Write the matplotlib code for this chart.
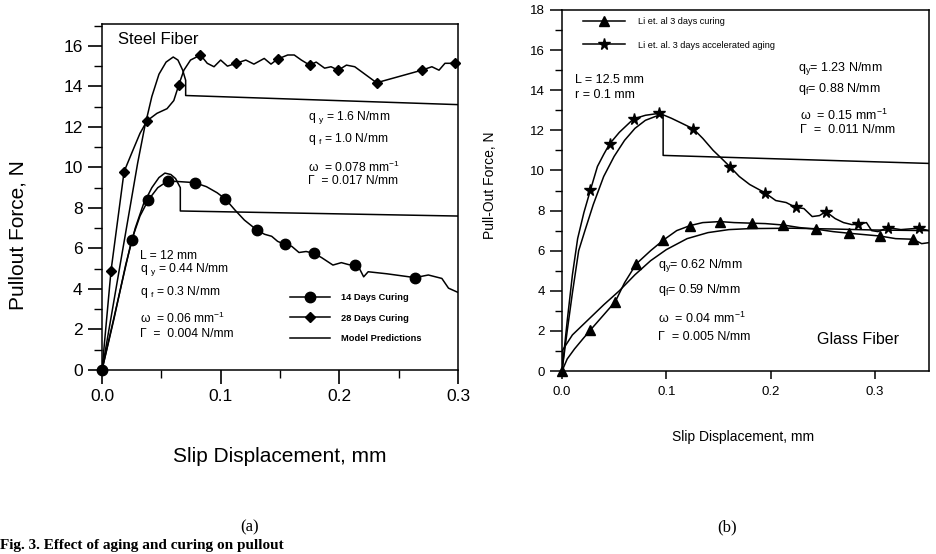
import matplotlib
matplotlib.use("Agg")
import matplotlib.pyplot as plt
from matplotlib.lines import Line2D
from matplotlib.ticker import MultipleLocator

plt.rcParams["font.family"] = ["Liberation Sans", "DejaVu Sans"]
plt.rcParams["mathtext.fontset"] = "custom"
plt.rcParams["mathtext.rm"] = "Liberation Sans"
plt.rcParams["mathtext.it"] = "Liberation Sans:italic"

# ---- (a) steel fiber ----
d14_x = [0, 0.025, 0.032, 0.039, 0.047, 0.0554, 0.065, 0.078, 0.088, 0.097, 0.104, 0.112,
         0.120, 0.1305, 0.137, 0.143, 0.148, 0.154, 0.160, 0.166, 0.172, 0.1786, 0.185,
         0.1946, 0.2017, 0.208, 0.213, 0.217, 0.2205, 0.2243, 0.240, 0.2638, 0.275, 0.2864,
         0.292, 0.300]
d14_y = [0, 6.42, 7.6, 8.39, 9.0, 9.33, 9.3, 9.25, 9.05, 8.75, 8.44, 7.9,
         7.4, 6.91, 6.7, 6.6, 6.35, 6.2, 6.1, 5.8, 5.85, 5.76, 5.55,
         5.18, 5.3, 5.2, 5.18, 5.0, 4.6, 4.85, 4.75, 4.56, 4.69, 4.52,
         4.04, 3.83]
d14_mx = [0, 0.025, 0.039, 0.0554, 0.078, 0.104, 0.1305, 0.154, 0.1786, 0.213, 0.2638]
d14_my = [0, 6.42, 8.39, 9.33, 9.25, 8.44, 6.91, 6.2, 5.76, 5.18, 4.56]

d28_x = [0, 0.0076, 0.0186, 0.025, 0.032, 0.0379, 0.0463, 0.0548, 0.0605, 0.0647,
         0.069, 0.0746, 0.083, 0.0887, 0.0944, 0.1, 0.1057, 0.113, 0.1212, 0.128,
         0.1367, 0.1424, 0.148, 0.1565, 0.162, 0.168, 0.175, 0.1805, 0.1876, 0.193,
         0.199, 0.206, 0.213, 0.2186, 0.2314, 0.2695, 0.278, 0.284, 0.289, 0.2977]
d28_y = [0, 4.9, 9.79, 10.7, 11.68, 12.3, 12.67, 12.9, 13.3, 14.07,
         14.8, 15.3, 15.55, 15.14, 14.97, 15.3, 15.0, 15.14, 15.3, 15.1,
         15.38, 15.1, 15.35, 15.55, 15.55, 15.3, 15.05, 15.2, 14.9, 14.97,
         14.8, 15.05, 14.97, 14.73, 14.18, 14.8, 14.97, 14.8, 15.14, 15.14]
d28_mx = [0.0076, 0.0186, 0.0379, 0.0647, 0.083, 0.113, 0.148, 0.175, 0.199, 0.2314, 0.2695, 0.2977]
d28_my = [4.9, 9.79, 12.3, 14.07, 15.55, 15.14, 15.35, 15.05, 14.8, 14.18, 14.8, 15.14]

sm_hi_x = [0, 0.02, 0.03, 0.036, 0.042, 0.048, 0.054, 0.06, 0.064, 0.068, 0.0705, 0.0705, 0.3]
sm_hi_y = [0, 6.8, 10.2, 12.0, 13.5, 14.6, 15.2, 15.45, 15.3, 14.8, 14.3, 13.55, 13.1]
sm_lo_x = [0, 0.01, 0.02, 0.028, 0.035, 0.042, 0.048, 0.053, 0.058, 0.062, 0.066, 0.066, 0.3]
sm_lo_y = [0, 2.5, 5.2, 7.0, 8.2, 9.0, 9.5, 9.72, 9.65, 9.45, 9.0, 7.85, 7.6]

# ---- (b) glass fiber ----
tri_x = [0, 0.005, 0.012, 0.02, 0.0272, 0.04, 0.0511, 0.06, 0.0712, 0.085, 0.0973, 0.11,
         0.1228, 0.135, 0.1515, 0.165, 0.182, 0.195, 0.212, 0.228, 0.244, 0.26, 0.275,
         0.29, 0.305, 0.32, 0.3366, 0.345, 0.352]
tri_y = [0, 0.6, 1.1, 1.6, 2.04, 2.8, 3.46, 4.4, 5.34, 6.0, 6.53, 7.0,
         7.25, 7.4, 7.45, 7.4, 7.37, 7.35, 7.28, 7.15, 7.07, 6.95, 6.87,
         6.8, 6.73, 6.6, 6.57, 6.35, 6.4]
tri_mx = [0, 0.0272, 0.0511, 0.0712, 0.0973, 0.1228, 0.1515, 0.182, 0.212, 0.244, 0.275, 0.305, 0.3366]
tri_my = [0, 2.04, 3.46, 5.34, 6.53, 7.25, 7.45, 7.37, 7.28, 7.07, 6.87, 6.73, 6.57]

star_x = [0, 0.005, 0.01, 0.015, 0.021, 0.0273, 0.034, 0.04, 0.0456, 0.055,
          0.0686, 0.08, 0.0935, 0.105, 0.115, 0.126, 0.135, 0.145, 0.153, 0.161,
          0.17, 0.18, 0.1945, 0.205, 0.215, 0.224, 0.232, 0.24, 0.247, 0.253,
          0.262, 0.27, 0.278, 0.284, 0.292, 0.297, 0.303, 0.3125, 0.325, 0.342, 0.352]
star_y = [0, 2.5, 4.8, 6.6, 7.9, 9.03, 10.2, 10.8, 11.32, 11.9,
          12.57, 12.75, 12.85, 12.6, 12.35, 12.07, 11.6, 11.0, 10.6, 10.19,
          9.7, 9.3, 8.89, 8.5, 8.4, 8.16, 8.1, 7.7, 7.75, 7.95,
          7.6, 7.4, 7.3, 7.32, 7.4, 7.0, 6.95, 7.15, 7.05, 7.12, 7.0]
star_mx = [0.0273, 0.0456, 0.0686, 0.0935, 0.126, 0.161, 0.1945, 0.224, 0.253, 0.284, 0.3125, 0.342]
star_my = [9.03, 11.32, 12.57, 12.85, 12.07, 10.19, 8.89, 8.16, 7.95, 7.32, 7.15, 7.12]

gm_hi_x = [0, 0.005, 0.01, 0.016, 0.022, 0.03, 0.04, 0.05, 0.06, 0.07, 0.08, 0.09, 0.097, 0.097, 0.352]
gm_hi_y = [0, 2.0, 3.9, 6.0, 7.0, 8.3, 9.7, 10.7, 11.5, 12.1, 12.5, 12.7, 12.75, 10.75, 10.35]
gm_lo_x = [0, 0, 0.01, 0.025, 0.04, 0.055, 0.07, 0.085, 0.1, 0.12, 0.14, 0.16, 0.18, 0.22, 0.26, 0.3, 0.352]
gm_lo_y = [0, 1.0, 1.8, 2.55, 3.3, 4.0, 4.8, 5.5, 6.05, 6.6, 6.9, 7.05, 7.1, 7.12, 7.08, 7.03, 7.0]

W, H = 937, 554
fig = plt.figure(figsize=(W / 100, H / 100), dpi=100)


def px(x, y):
    return x / W, 1 - y / H


def ptext(x, y, s, **kw):
    kw.setdefault("va", "center")
    kw.setdefault("ha", "left")
    fig.text(*px(x, y), s, **kw)


LW = 1.1

# ---------------- left panel ----------------
ax1 = fig.add_axes([102 / W, 1 - 370 / H, 356 / W, 346 / H])
ax1.plot(d14_x, d14_y, color="k", lw=LW)
ax1.plot(d14_mx, d14_my, ls="none", marker="o", ms=7.5, color="k", clip_on=False)
ax1.plot(d28_x, d28_y, color="k", lw=LW)
ax1.plot(d28_mx, d28_my, ls="none", marker="D", ms=5, color="k", clip_on=False)
ax1.plot(sm_hi_x, sm_hi_y, color="k", lw=LW)
ax1.plot(sm_lo_x, sm_lo_y, color="k", lw=LW)
ax1.set_xlim(0, 0.3)
ax1.set_ylim(0, 17.08)
ax1.xaxis.set_minor_locator(MultipleLocator(0.05))
ax1.yaxis.set_minor_locator(MultipleLocator(1))
ax1.set_yticks(range(0, 17, 2))
ax1.set_xticks([0, 0.1, 0.2, 0.3])
ax1.set_xticklabels(["0.0", "0.1", "0.2", "0.3"])
ax1.tick_params(which="major", direction="out", length=10, width=1.2, labelsize=12.5, pad=4)
ax1.tick_params(which="minor", direction="out", length=6, width=1.0)
for s in ax1.spines.values():
    s.set_linewidth(1.1)

h1 = [Line2D([], [], color="k", lw=LW, marker="o", ms=7.5),
      Line2D([], [], color="k", lw=LW, marker="D", ms=5),
      Line2D([], [], color="k", lw=LW)]
ax1.legend(h1, ["14 Days Curing", "28 Days Curing", "Model Predictions"],
           loc="upper left", bbox_to_anchor=((290 - 102) / 356, (370 - 293) / 346),
           frameon=False, prop={"weight": "bold", "size": 6.7},
           handlelength=4.3, handletextpad=1.2, labelspacing=1.25,
           borderpad=0, borderaxespad=0)

ptext(118, 39, "Steel Fiber", fontsize=12)
ptext(308, 118, r"q $_{\mathrm{y}}$ = 1.6 N/mm", fontsize=8.7)
ptext(308, 139, r"q $_{\mathrm{f}}$ = 1.0 N/mm", fontsize=8.7)
ptext(308, 167, r"ω  = 0.078 mm$^{\mathrm{-1}}$", fontsize=8.7)
ptext(308, 181, "Γ  = 0.017 N/mm", fontsize=8.7)

ptext(140, 256, "L = 12 mm", fontsize=8.7)
ptext(140, 270, r"q $_{\mathrm{y}}$ = 0.44 N/mm", fontsize=8.7)
ptext(140, 292, r"q $_{\mathrm{f}}$ = 0.3 N/mm", fontsize=8.7)
ptext(140, 318, r"ω  = 0.06 mm$^{\mathrm{-1}}$", fontsize=8.7)
ptext(140, 334, "Γ  =  0.004 N/mm", fontsize=8.7)

ptext(18, 235, "Pullout Force, N", fontsize=15, rotation=90, ha="center")
ptext(280, 457, "Slip Displacement, mm", fontsize=15, ha="center")

# ---------------- right panel ----------------
ax2 = fig.add_axes([562 / W, 1 - 371 / H, 367 / W, 361 / H])
ax2.plot(tri_x, tri_y, color="k", lw=LW)
ax2.plot(tri_mx, tri_my, ls="none", marker="^", ms=6.5, color="k", clip_on=False)
ax2.plot(star_x, star_y, color="k", lw=LW)
ax2.plot(star_mx, star_my, ls="none", marker="*", ms=8.5, color="k", clip_on=False)
ax2.plot(gm_hi_x, gm_hi_y, color="k", lw=LW)
ax2.plot(gm_lo_x, gm_lo_y, color="k", lw=LW)
ax2.set_xlim(0, 0.352)
ax2.set_ylim(0, 18)
ax2.set_xticks([0, 0.1, 0.2, 0.3])
ax2.set_xticklabels(["0.0", "0.1", "0.2", "0.3"])
ax2.set_yticks(range(0, 19, 2))
ax2.yaxis.set_minor_locator(MultipleLocator(1))
ax2.tick_params(axis="y", which="major", direction="out", length=9, width=1.1, labelsize=9.5)
ax2.tick_params(axis="y", which="minor", direction="out", length=5, width=1.0)
ax2.tick_params(axis="x", which="major", direction="out", length=6, width=1.1, labelsize=9.5, pad=5)
for s in ax2.spines.values():
    s.set_linewidth(1.1)

h2 = [Line2D([], [], color="k", lw=LW, marker="^", ms=6.5),
      Line2D([], [], color="k", lw=LW, marker="*", ms=8.5)]
ax2.legend(h2, ["Li et. al 3 days curing", "Li et. al. 3 days accelerated aging"],
           loc="upper left", bbox_to_anchor=((583 - 562) / 367, (371 - 17) / 361),
           frameon=False, fontsize=6.6, handlelength=4.6, handletextpad=1.4,
           labelspacing=1.6, borderpad=0, borderaxespad=0)

ptext(575, 80, "L = 12.5 mm", fontsize=9)
ptext(575, 95, "r = 0.1 mm", fontsize=9)
ptext(798, 69, r"q$_{\mathrm{y}}$= 1.23 N/mm", fontsize=9)
ptext(798, 89, r"q$_{\mathrm{f}}$= 0.88 N/mm", fontsize=9)
ptext(800, 115, r"ω  = 0.15 mm$^{\mathrm{-1}}$", fontsize=9)
ptext(800, 130, "Γ  =  0.011 N/mm", fontsize=9)

ptext(658, 265, r"q$_{\mathrm{y}}$= 0.62 N/mm", fontsize=9)
ptext(658, 290, r"q$_{\mathrm{f}}$= 0.59 N/mm", fontsize=9)
ptext(658, 318, r"ω  = 0.04 mm$^{\mathrm{-1}}$", fontsize=9)
ptext(658, 337, "Γ  = 0.005 N/mm", fontsize=9)
ptext(817, 340, "Glass Fiber", fontsize=11.5)

ptext(490, 185, "Pull-Out Force, N", fontsize=10, rotation=90, ha="center")
ptext(743, 437, "Slip Displacement, mm", fontsize=10, ha="center")

# captions
ptext(250, 527, "(a)", fontsize=12, ha="center", family="Liberation Serif")
ptext(727, 527, "(b)", fontsize=12, ha="center", family="Liberation Serif")
ptext(0, 552, "Fig. 3. Effect of aging and curing on pullout", fontsize=11,
      va="bottom", family="Liberation Serif", weight="bold")

fig.savefig("out.png", dpi=100)
